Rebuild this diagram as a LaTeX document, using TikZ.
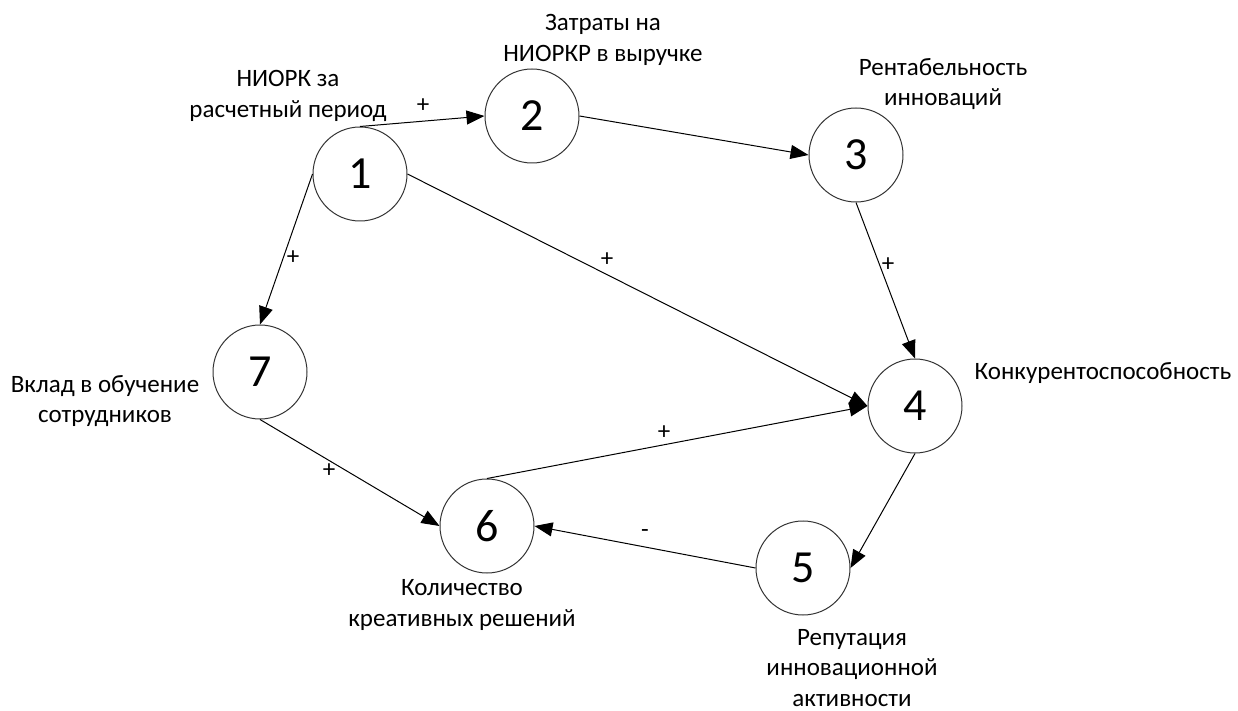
\documentclass[tikz,border=0pt]{standalone}
\usepackage{fontspec}
\setmainfont{Carlito}
\usetikzlibrary{arrows.meta}
\begin{document}
\begin{tikzpicture}[x=0.5pt,y=-0.5pt,
  state/.style={circle,draw=black!80,line width=0.5pt,minimum size=47pt,inner sep=0pt,
    font=\fontsize{23}{26}\selectfont},
  lbl/.style={align=center,inner sep=0pt,font=\fontsize{12.5}{15.3}\selectfont},
  sign/.style={inner sep=0pt,font=\fontsize{12.5}{15}\selectfont},
  link/.style={line width=0.5pt,-{Triangle[length=9pt,width=7pt]}}]
\useasboundingbox (0,0) rectangle (1238,711);
\node[state] (n1) at (360,174) {1};
\node[state] (n2) at (532,116) {2};
\node[state] (n3) at (856,155) {3};
\node[state] (n4) at (915,406) {4};
\node[state] (n5) at (803,568) {5};
\node[state] (n6) at (487,526) {6};
\node[state] (n7) at (260,372) {7};

\node[lbl] (t1) at (288,96) {НИОРК за\\расчетный период};
\node[lbl] (t2) at (603,40) {Затраты на\\НИОРКР в выручке};
\node[lbl] (t3) at (943,84) {Рентабельность\\инноваций};
\node[lbl] (t4) at (1103,373) {Конкурентоспособность};
\node[lbl] (t5) at (852,668) {Репутация\\инновационной\\активности};
\node[lbl] (t6) at (462,605) {Количество\\креативных решений};
\node[lbl] (t7) at (105,401) {Вклад в обучение\\сотрудников};

\draw[link] (n1.north) -- (n2.west);
\draw[link] (n2.east) -- (n3.west);
\draw[link] (n1.east) -- (n4.west);
\draw[link] (n3.south) -- (n4.north);
\draw[link] (n1.west) -- (n7.north);
\draw[link] (n7.south) -- (n6.west);
\draw[link] (n6.north) -- (n4.west);
\draw[link] (n4.south) -- (n5.east);
\draw[link] (n5.west) -- (n6.east);

\node[sign] (s12) at (423,106) {+};
\node[sign] (s17) at (293,258) {+};
\node[sign] (s14) at (607,260) {+};
\node[sign] (s34) at (888,265) {+};
\node[sign] (s76) at (329,471) {+};
\node[sign] (s64) at (664,433) {+};
\node[sign] (s56) at (645,534) {-};
\end{tikzpicture}
\end{document}
